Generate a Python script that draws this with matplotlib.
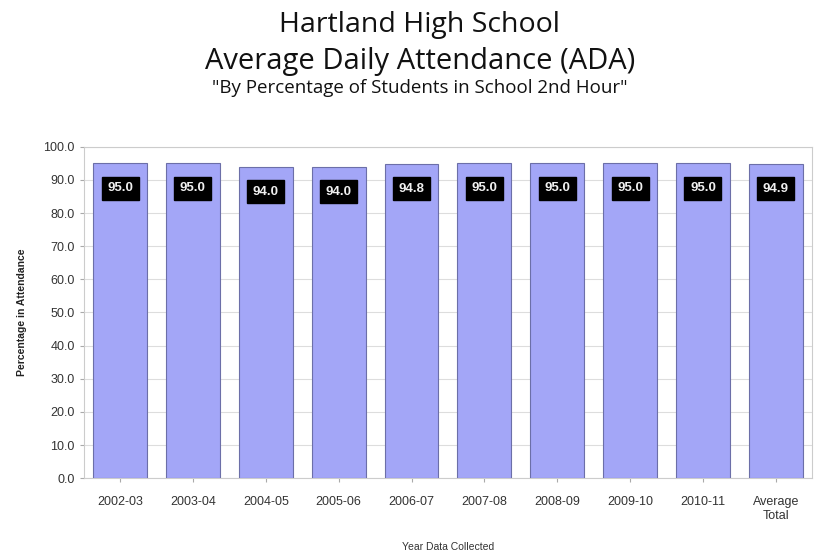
import numpy as np
import matplotlib.pyplot as plt

years = ['2002-03', '2003-04', '2004-05', '2005-06', '2006-07', '2007-08',
         '2008-09', '2009-10', '2010-11', 'Average\nTotal']
ada = [95.0, 95.0, 94.0, 94.0, 94.8, 95.0, 95.0, 95.0, 95.0, 94.9]
yticks = [0, 10, 20, 30, 40, 50, 60, 70, 80, 90, 100]

plt.rcParams['font.family'] = ['Liberation Sans', 'DejaVu Sans']

fig = plt.figure(figsize=(8.28, 5.58), dpi=100)
ax = fig.add_axes([0.101, 0.143, 0.880, 0.594])

x = np.arange(len(years))
ax.bar(x, ada, width=0.74, color='#a3a6f7', edgecolor='#6c6fa8', linewidth=0.8, zorder=3)

# black value boxes a bit below the top of each bar
for xi, v in zip(x, ada):
    ax.text(xi, v - 7.5, f'{v:.1f}', ha='center', va='center', color='#f0f0f0',
            fontsize=9.5, fontweight='bold', zorder=4,
            bbox=dict(boxstyle='square,pad=0.42', fc='black', ec='black'))

ax.set_ylim(0, 100)
ax.set_xlim(-0.5, len(years) - 0.5)
ax.set_yticks(yticks)
ax.set_yticklabels([f'{t:.1f}' for t in yticks], fontsize=9, color='#333333')
ax.set_xticks(x)
ax.set_xticklabels(years, fontsize=9, color='#333333')
ax.tick_params(axis='both', length=3, color='#aaaaaa')
ax.tick_params(axis='x', pad=10)
ax.yaxis.grid(True, color='#dddddd', linewidth=0.8, zorder=0)
for s in ax.spines.values():
    s.set_color('#cccccc')

ax.set_ylabel('Percentage in Attendance', fontsize=7.5, fontweight='bold', color='#222222', labelpad=12)
ax.set_xlabel('Year Data Collected', fontsize=7.5, color='#333333', labelpad=14)

fig.text(0.507, 0.955, 'Hartland High School', ha='center', va='center', fontsize=20.5,
         family=['Open Sans', 'DejaVu Sans'], color='#111111')
fig.text(0.507, 0.889, 'Average Daily Attendance (ADA)', ha='center', va='center', fontsize=21,
         family=['Open Sans', 'DejaVu Sans'], color='#111111')
fig.text(0.507, 0.842, '"By Percentage of Students in School 2nd Hour"', ha='center', va='center',
         fontsize=13.5, family=['Open Sans', 'DejaVu Sans'], color='#111111')

plt.savefig('out.png', dpi=100)
